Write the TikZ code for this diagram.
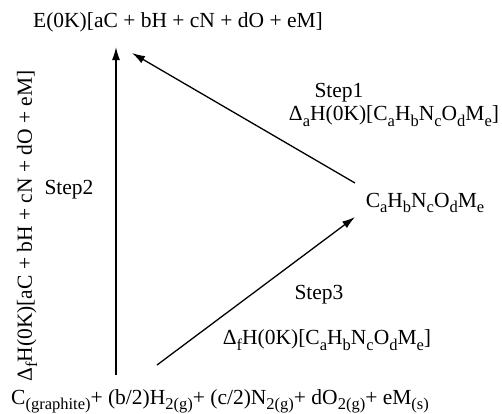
\documentclass[tikz,border=0pt]{standalone}
\usepackage{fontspec}
\setmainfont{Liberation Serif}
\usetikzlibrary{arrows.meta}
\newcommand{\sbs}[1]{\raisebox{-0.25em}{\fontsize{16.5}{18}\selectfont #1}}
\newcommand{\molform}{C\sbs{a}H\sbs{b}N\sbs{c}O\sbs{d}M\sbs{e}}
\tikzset{
  cyclabel/.style={inner sep=0pt,font=\fontsize{21.5}{25}\selectfont},
  cycarrow/.style={line width=1.3pt,-{Latex[length=13pt,width=8pt]}}
}

\begin{document}
\begin{tikzpicture}[x=1pt,y=-1pt]

        \useasboundingbox (0,0) rectangle (502,413);

        % states of the cycle
        \node[cyclabel] (atoms) at (178,22)
          {E(0K)[aC + bH + cN + dO + eM]};
        \node[cyclabel] (mol) at (425,203) {\molform};
        \node[cyclabel] (elem) at (220,401)
          {C\sbs{(graphite)}+ (b/2)H\sbs{2(g)}+ (c/2)N\sbs{2(g)}+ dO\sbs{2(g)}+ eM\sbs{(s)}};

        % free ends of the connectors
        \coordinate (elemtop) at (116,375);
        \coordinate (atomsfoot) at (116,47);
        \coordinate (atomsside) at (132,53);
        \coordinate (molup) at (355,183);
        \coordinate (moldown) at (355,217);
        \coordinate (elemside) at (157,365);

        \draw[cycarrow] (elemtop) -- (atomsfoot);
        \draw[cycarrow] (molup) -- (atomsside);
        \draw[cycarrow] (elemside) -- (moldown);

        % step labels
        \node[cyclabel] (step1) at (339,93) {Step1};
        \node[cyclabel] (step1val) at (394,116)
          {Δ\sbs{a}H(0K)[\molform]};
        \node[cyclabel] (step2) at (69,190) {Step2};
        \node[cyclabel,rotate=90] (step2val) at (27,226)
          {Δ\sbs{f}H(0K)[aC + bH + cN + dO + eM]};
        \node[cyclabel] (step3) at (319,295) {Step3};
        \node[cyclabel] (step3val) at (327,340)
          {Δ\sbs{f}H(0K)[\molform]};

      \end{tikzpicture}
\end{document}
